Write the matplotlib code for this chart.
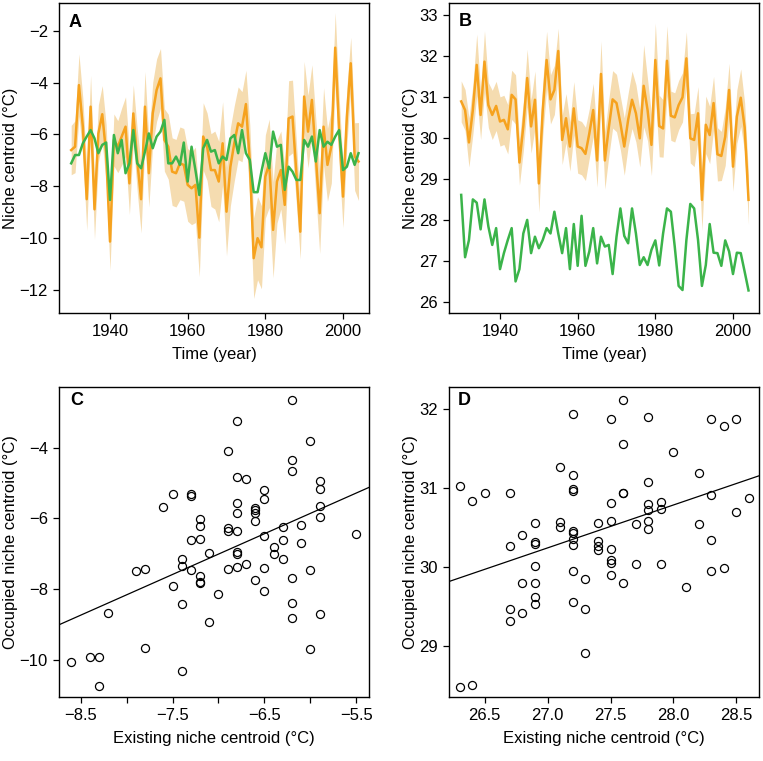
import numpy as np
import matplotlib
matplotlib.use('Agg')
import matplotlib.pyplot as plt
from matplotlib.ticker import FixedLocator, FuncFormatter

plt.rcParams['font.family'] = ['Liberation Sans', 'DejaVu Sans']
plt.rcParams['font.size'] = 12

years = np.arange(1930, 2005)

# panel A: cold niche (occupied = orange, existing = green)
occ_a = [-6.60, -6.47, -4.10, -5.70, -8.49, -4.93, -8.88, -5.96, -5.22, -6.72,
         -10.12, -6.21, -6.47, -6.08, -5.70, -7.88, -5.19, -6.98, -8.49, -4.93,
         -7.49, -5.19, -4.29, -3.84, -6.21, -6.47, -7.43, -7.49, -7.11, -7.17,
         -7.94, -8.07, -7.94, -9.97, -6.08, -6.47, -7.37, -7.37, -7.81, -6.34,
         -8.97, -7.24, -6.34, -5.57, -5.70, -4.83, -7.04, -10.76, -9.99, -10.34,
         -7.62, -7.11, -9.67, -7.81, -7.37, -8.71, -5.38, -5.31, -7.49, -9.74,
         -4.54, -5.89, -4.67, -6.85, -9.03, -5.70, -7.17, -6.47, -2.66, -5.83,
         -8.39, -5.31, -3.26, -6.85, -7.04]
occ_a_sd = [0.95, 1.0, 1.2, 1.1, 1.2, 1.2, 1.15, 1.1, 1.1, 1.1,
            1.1, 1.0, 1.0, 1.1, 1.15, 1.2, 1.1, 1.2, 1.3, 1.35,
            1.3, 1.2, 1.2, 1.15, 1.2, 1.25, 1.3, 1.3, 1.4, 1.4,
            1.4, 1.4, 1.45, 1.5, 1.3, 1.3, 1.4, 1.5, 1.55, 1.6,
            1.7, 1.5, 1.45, 1.4, 1.35, 1.3, 1.4, 1.55, 1.6, 1.6,
            1.6, 1.7, 1.85, 1.6, 1.5, 1.5, 1.45, 1.4, 1.2, 1.05,
            1.35, 1.4, 1.35, 1.45, 1.55, 1.5, 1.4, 1.4, 1.35, 1.3,
            1.2, 1.1, 1.0, 1.3, 1.5]
exi_a = [-7.11, -6.79, -6.79, -6.34, -6.08, -5.83, -6.15, -6.72, -6.40, -6.31,
         -8.52, -6.02, -6.72, -6.21, -7.49, -7.11, -5.83, -7.11, -7.30, -6.66,
         -5.96, -6.53, -6.08, -5.89, -5.44, -7.11, -7.11, -6.85, -7.17, -6.31,
         -7.81, -6.47, -7.37, -8.33, -6.53, -6.21, -6.66, -6.60, -7.11, -6.85,
         -6.98, -6.15, -6.02, -6.72, -5.83, -6.72, -6.98, -8.22, -8.22, -7.43,
         -6.72, -7.30, -5.89, -6.47, -6.40, -8.13, -7.24, -7.43, -7.75, -7.75,
         -6.21, -6.47, -6.08, -7.04, -5.83, -6.47, -6.28, -6.40, -6.08, -5.83,
         -7.37, -7.24, -6.72, -7.17, -6.72]

# panel B: warm niche
occ_b = [30.89, 30.68, 29.89, 30.68, 31.78, 30.56, 31.86, 30.80, 30.56, 30.78,
         30.40, 30.44, 30.21, 31.05, 30.94, 29.40, 30.28, 31.46, 30.28, 30.93,
         28.89, 30.68, 31.90, 30.94, 31.17, 32.12, 29.95, 30.48, 29.79, 30.72,
         29.79, 29.75, 29.61, 30.11, 30.68, 29.45, 31.56, 29.45, 30.24, 30.94,
         30.85, 30.36, 29.79, 30.44, 30.93, 30.60, 29.99, 31.27, 30.68, 29.83,
         31.90, 30.29, 30.23, 31.88, 30.54, 30.50, 30.80, 30.99, 31.94, 29.99,
         29.95, 30.60, 28.49, 30.32, 30.07, 30.85, 29.60, 29.56, 30.03, 31.17,
         29.30, 30.52, 30.98, 30.26, 28.49]
occ_b_sd = [0.5, 0.5, 0.6, 0.6, 0.75, 0.6, 0.75, 0.55, 0.6, 0.6,
            0.6, 0.6, 0.6, 0.6, 0.6, 0.55, 0.6, 0.7, 0.65, 0.7,
            0.7, 0.65, 0.7, 0.6, 0.6, 0.55, 0.6, 0.6, 0.6, 0.65,
            0.65, 0.65, 0.65, 0.6, 0.65, 0.65, 0.8, 0.7, 0.7, 0.7,
            0.7, 0.65, 0.7, 0.65, 0.7, 0.7, 0.7, 1.0, 0.75, 0.75,
            0.9, 0.75, 0.7, 0.85, 0.6, 0.6, 0.6, 0.6, 0.65, 0.6,
            0.65, 0.65, 0.75, 0.7, 0.7, 0.65, 0.65, 0.6, 0.7, 0.65,
            0.6, 0.65, 0.7, 0.6, 0.6]
exi_b = [28.61, 27.09, 27.51, 28.50, 28.42, 27.77, 28.50, 27.84, 27.39, 27.80,
         26.80, 27.19, 27.51, 27.80, 26.50, 26.80, 27.67, 28.00, 27.19, 27.59,
         27.31, 27.51, 27.80, 27.67, 28.20, 27.67, 27.19, 27.80, 26.80, 27.90,
         26.88, 28.10, 26.88, 27.23, 27.80, 26.94, 27.59, 27.35, 27.39, 26.68,
         27.59, 28.28, 27.61, 27.43, 28.28, 27.67, 26.90, 27.09, 26.90, 27.27,
         27.50, 26.89, 27.67, 28.28, 28.20, 27.35, 26.39, 26.29, 27.51, 28.39,
         28.28, 27.51, 26.39, 26.90, 27.90, 27.20, 27.19, 26.88, 27.50, 27.23,
         26.68, 27.20, 27.19, 26.74, 26.28]

# panel C scatter: existing vs occupied (cold)
c_x = [-8.6, -8.4, -8.3, -8.3, -8.2, -7.9, -7.8, -7.8, -7.6, -7.5, -7.5,
       -7.4, -7.4, -7.4, -7.4, -7.3, -7.3, -7.3, -7.3,
       -7.2, -7.2, -7.2, -7.2, -7.2, -7.2, -7.1, -7.1, -7.0,
       -6.9, -6.9, -6.9, -6.9, -6.8, -6.8, -6.8, -6.8, -6.8, -6.8, -6.8, -6.8,
       -6.7, -6.7, -6.6, -6.6, -6.6, -6.6, -6.6, -6.5, -6.5, -6.5, -6.5, -6.5,
       -6.4, -6.4, -6.3, -6.3, -6.3, -6.2, -6.2, -6.2, -6.2, -6.2, -6.2,
       -6.1, -6.1, -6.0, -6.0, -6.0, -5.9, -5.9, -5.9, -5.9, -5.9, -5.5]
c_y = [-10.05, -9.91, -9.93, -10.74, -8.69, -7.50, -7.44, -9.67, -5.68, -5.30, -7.90,
       -7.15, -7.34, -8.41, -10.32, -5.31, -5.38, -6.60, -7.47,
       -6.02, -6.21, -6.58, -7.62, -7.79, -7.82, -6.97, -8.93, -8.15,
       -4.09, -6.28, -6.36, -7.42, -3.24, -4.83, -5.56, -5.86, -6.35, -6.94, -7.01, -7.37,
       -4.90, -7.30, -5.70, -5.77, -5.86, -6.07, -7.75, -5.20, -5.45, -6.51, -7.40, -8.05,
       -6.80, -7.01, -6.25, -6.62, -7.16, -2.65, -4.35, -4.65, -7.68, -8.40, -8.81,
       -6.18, -6.69, -3.81, -7.45, -9.68, -4.96, -5.17, -5.65, -5.95, -8.70, -6.44]

# panel D scatter: existing vs occupied (warm)
d_x = [26.3, 26.4, 26.5, 26.7, 26.7, 26.7, 26.7, 26.8, 26.8, 26.8,
       26.9, 26.9, 26.9, 26.9, 26.9, 26.9, 26.9, 27.1, 27.1, 27.1,
       27.2, 27.2, 27.2, 27.2, 27.2, 27.2, 27.2, 27.2, 27.2, 27.2,
       27.3, 27.3, 27.3, 27.4, 27.4, 27.4, 27.4,
       27.5, 27.5, 27.5, 27.5, 27.5, 27.5, 27.5, 27.6, 27.6, 27.6, 27.6, 27.6,
       27.7, 27.7, 27.8, 27.8, 27.8, 27.8, 27.8, 27.8, 27.9, 27.9, 27.9,
       28.0, 28.1, 28.2, 28.2, 28.3, 28.3, 28.3, 28.3, 28.4, 28.4,
       28.5, 28.5, 28.6, 26.3, 26.4]
d_y = [31.03, 30.84, 30.94, 30.94, 30.26, 29.47, 29.31, 30.40, 29.80, 29.42,
       30.56, 30.31, 30.29, 30.01, 29.80, 29.62, 29.53, 31.26, 30.57, 30.50,
       31.94, 31.16, 30.99, 30.96, 30.45, 30.43, 30.35, 30.28, 29.95, 29.55,
       29.84, 29.47, 28.91, 30.56, 30.33, 30.27, 30.21,
       31.88, 30.81, 30.58, 30.22, 30.09, 30.05, 29.90, 32.12, 31.56, 30.94, 30.93, 29.79,
       30.54, 30.03, 31.90, 31.07, 30.80, 30.72, 30.58, 30.48, 30.82, 30.73, 30.04,
       31.45, 29.75, 31.19, 30.54, 31.87, 30.91, 30.34, 29.95, 31.79, 29.99,
       31.87, 30.69, 30.87, 28.48, 28.50]

ORANGE = '#F6A21E'
BAND = '#F5DCB0'
GREEN = '#3BB44A'

fig = plt.figure(figsize=(7.63, 7.61), dpi=100)
W, H = 763.0, 761.0
def place(l, t):
    return fig.add_axes([l / W, 1 - (t + 310) / H, 310 / W, 310 / H])

ax_a = place(59, 3)
ax_b = place(449, 3)
ax_c = place(59, 387)
ax_d = place(449, 387)

def style(ax):
    for s in ax.spines.values():
        s.set_linewidth(1.0)
        s.set_color('black')
    ax.tick_params(direction='out', length=4, width=0.9, labelsize=12,
                   top=False, right=False, pad=4)

def timeseries(ax, occ, sd, exi):
    occ = np.array(occ)
    sd = np.array(sd)
    ax.fill_between(years, occ - sd, occ + sd, color=BAND, lw=0)
    ax.plot(years, occ, color=ORANGE, lw=1.8)
    ax.plot(years, exi, color=GREEN, lw=1.8)
    ax.set_xlim(1926.86, 2006.7)
    ax.set_xticks([1940, 1960, 1980, 2000])
    ax.set_xlabel('Time (year)', fontsize=12, labelpad=6)
    ax.set_ylabel('Niche centroid (°C)', fontsize=12, labelpad=1)

timeseries(ax_a, occ_a, occ_a_sd, exi_a)
ax_a.set_ylim(-12.87, -0.94)
ax_a.set_yticks([-12, -10, -8, -6, -4, -2])

timeseries(ax_b, occ_b, occ_b_sd, exi_b)
ax_b.set_ylim(25.73, 33.29)
ax_b.set_yticks(range(26, 34))

def scatter(ax, x, y, xlim):
    ax.plot(x, y, 'o', ms=5.8, mfc='none', mec='black', mew=0.9)
    k, b = np.polyfit(x, y, 1)
    xs = np.array(xlim)
    ax.plot(xs, k * xs + b, color='black', lw=0.9)
    ax.set_xlim(*xlim)
    ax.set_xlabel('Existing niche centroid (°C)', fontsize=12, labelpad=6)
    ax.set_ylabel('Occupied niche centroid (°C)', fontsize=12, labelpad=1)

scatter(ax_c, c_x, c_y, (-8.735, -5.362))
ax_c.set_ylim(-11.05, -2.29)
ax_c.set_yticks([-10, -8, -6, -4])
ax_c.xaxis.set_major_locator(FixedLocator(np.arange(-8.5, -5.4, 0.5)))
ax_c.xaxis.set_major_formatter(FuncFormatter(
    lambda v, p: ('%.1f' % v).replace('-', '\u2212') if abs((v * 2) % 2 - 1) < 0.01 else ''))

scatter(ax_d, d_x, d_y, (26.216, 28.68))
ax_d.set_ylim(28.35, 32.28)
ax_d.set_yticks([29, 30, 31, 32])
ax_d.set_xticks([26.5, 27.0, 27.5, 28.0, 28.5])
ax_d.xaxis.set_major_formatter(FuncFormatter(lambda v, p: '%.1f' % v))

for ax, letter, fx, fy in [(ax_a, 'A', 0.032, 0.965), (ax_b, 'B', 0.03, 0.968),
                           (ax_c, 'C', 0.035, 0.985), (ax_d, 'D', 0.027, 0.985)]:
    style(ax)
    ax.text(fx, fy, letter, transform=ax.transAxes, fontsize=13,
            fontweight='bold', ha='left', va='top')

fig.savefig('out.png', dpi=100)
